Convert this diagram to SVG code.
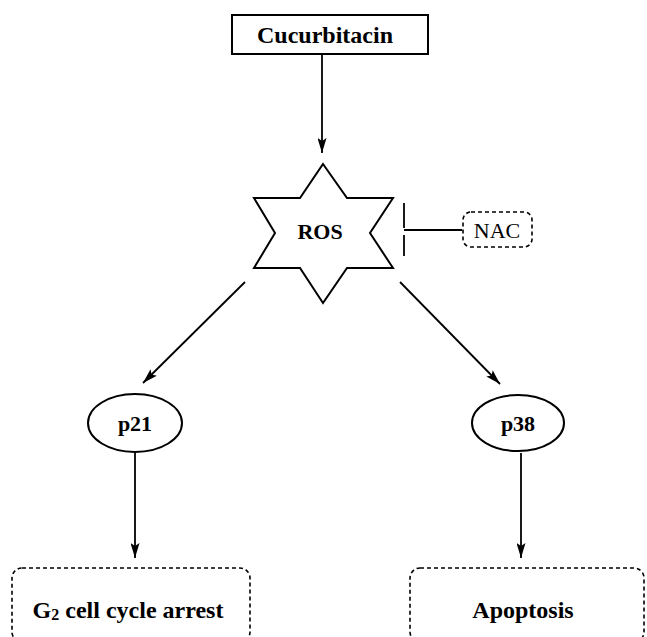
<svg xmlns="http://www.w3.org/2000/svg" width="647" height="637" viewBox="0 0 647 637">
<style>
.ln{stroke:#000;stroke-width:1.8;fill:none}
.nd{stroke:#000;stroke-width:2;fill:#fff}
.ds{stroke:#000;stroke-width:1.6;fill:#fff;stroke-dasharray:4 3}
.b{font-family:"Liberation Serif",serif;font-weight:bold;fill:#000;text-anchor:middle}
.r{font-family:"Liberation Serif",serif;fill:#000;text-anchor:middle}
</style>
<defs>
<marker id="ah" viewBox="0 0 15 9" refX="15" refY="4.5" markerWidth="15" markerHeight="9" markerUnits="userSpaceOnUse" orient="auto">
<path d="M0,0 L15,4.5 L0,9 L3,4.5 Z" fill="#000"/>
</marker>
</defs>
<rect width="647" height="637" fill="#fff"/>
<g id="cucurbitacin">
<rect class="nd" x="232" y="15" width="196" height="39"/>
<text class="b" x="325" y="43" font-size="24">Cucurbitacin</text>
</g>
<g id="ros">
<polygon class="nd" points="323,164 347,198 393,198 370,233 393,268 347,268 323,303 300,268 254,268 275,233 254,198 300,198"/>
<text class="b" x="320" y="239" font-size="22">ROS</text>
</g>
<g id="nac">
<rect class="ds" x="463" y="212" width="69" height="35" rx="8"/>
<text class="r" x="497" y="238" font-size="22">NAC</text>
</g>
<g id="p21">
<ellipse class="nd" cx="135" cy="423" rx="47" ry="29"/>
<text class="b" x="135" y="431" font-size="22">p21</text>
</g>
<g id="p38">
<ellipse class="nd" cx="518" cy="423" rx="46" ry="28"/>
<text class="b" x="518" y="431" font-size="22">p38</text>
</g>
<g id="g2arrest">
<rect class="ds" x="12" y="568" width="238" height="74" rx="10"/>
<text class="b" x="128" y="618" font-size="24">G<tspan font-size="16" dy="2">2</tspan><tspan dy="-2"> cell cycle arrest</tspan></text>
</g>
<g id="apoptosis">
<rect class="ds" x="410" y="568" width="234" height="74" rx="10"/>
<text class="b" x="523" y="618" font-size="24">Apoptosis</text>
</g>
<g id="connectors">
<line class="ln" x1="322" y1="55" x2="322" y2="153" marker-end="url(#ah)"/>
<line class="ln" x1="245" y1="282" x2="143" y2="383" marker-end="url(#ah)"/>
<line class="ln" x1="400" y1="282" x2="500" y2="384" marker-end="url(#ah)"/>
<line class="ln" x1="135" y1="453" x2="135" y2="558" marker-end="url(#ah)"/>
<line class="ln" x1="521" y1="453" x2="521" y2="558" marker-end="url(#ah)"/>
<line class="ln" x1="404" y1="230" x2="462" y2="230"/>
<line class="ln" x1="404" y1="203" x2="404" y2="228"/>
<line class="ln" x1="404" y1="235" x2="404" y2="256"/>
</g>
</svg>
